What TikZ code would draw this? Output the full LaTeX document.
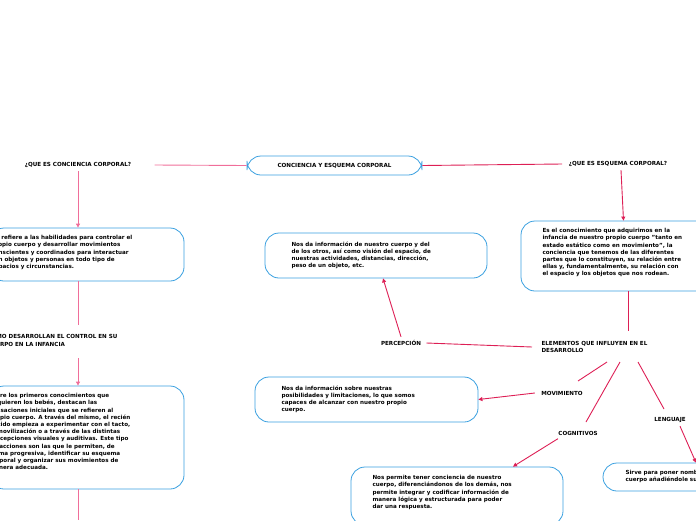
\documentclass[tikz,border=0pt]{standalone}
\usepackage{fontspec}
\setmainfont{DejaVu Sans}
\usetikzlibrary{positioning,arrows.meta}
\definecolor{pinkline}{HTML}{F06E9A}
\definecolor{redline}{HTML}{DD1F55}
\definecolor{boxblue}{HTML}{3AA0E0}
\tikzset{
  bubble/.style={draw=boxblue, line width=0.8pt, rounded corners=14pt, fill=white, minimum height=#1},
  bubble/.default=20pt,
  txt/.style={font=\bfseries\fontsize{5.6}{7.2}\selectfont, align=left},
  lbl/.style={font=\bfseries\fontsize{5.6}{7.2}\selectfont},
  pk/.style={draw=pinkline, line width=0.9pt},
  rd/.style={draw=redline, line width=0.9pt},
  arr/.style={-{Triangle[length=4pt,width=4pt]}}
}
\begin{document}
\begin{tikzpicture}[x=1pt,y=-1pt]
\useasboundingbox (0,0) rectangle (696,520);
% central topic
\node[bubble, minimum width=175pt, minimum height=19pt, lbl] (main) at (334.5,165.5) {CONCIENCIA Y ESQUEMA CORPORAL};
\node[lbl] (qcc) at (78,165) {¿QUE ES CONCIENCIA CORPORAL?};
\node[lbl] (qec) at (618,164) {¿QUE ES ESQUEMA CORPORAL?};

% left branch
\node[bubble, minimum width=194pt, minimum height=53pt] (def1) at (87,254.5) {};
\node[txt, anchor=north west] at (-12,232) {Se refiere a las habilidades para controlar el\\propio cuerpo y desarrollar movimientos\\conscientes y coordinados para interactuar\\con objetos y personas en todo tipo de\\espacios y circunstancias.};
\node[txt, anchor=west] (como) at (-16,340) {CÓMO DESARROLLAN EL CONTROL EN SU\\CUERPO EN LA INFANCIA};
\node[bubble, minimum width=194pt, minimum height=103pt] (bebes) at (87,437.5) {};
\node[txt, anchor=north west] at (-14,390) {Entre los primeros conocimientos que\\adquieren los bebés, destacan las\\sensaciones iniciales que se refieren al\\propio cuerpo. A través del mismo, el recién\\nacido empieza a experimentar con el tacto,\\la movilización o a través de las distintas\\percepciones visuales y auditivas. Este tipo\\de acciones son las que le permiten, de\\forma progresiva, identificar su esquema\\corporal y organizar sus movimientos de\\manera adecuada.};
\coordinate (down) at (78,520);

% right branch
\node[bubble, minimum width=189pt, minimum height=70pt] (esq) at (615.5,256) {};
\node[txt, anchor=north west] at (539,225) {Es el conocimiento que adquirimos en la\\infancia de nuestro propio cuerpo  "tanto en\\estado estático como en movimiento", la\\conciencia que tenemos de las diferentes\\partes que lo constituyen, su relación entre\\ellas y, fundamentalmente, su  relación con\\el espacio y los objetos que nos rodean.};
\node[txt, anchor=west] (elem) at (538,347) {ELEMENTOS QUE INFLUYEN EN EL\\DESARROLLO};
\node[lbl] (perc) at (401,343) {PERCEPCIÓN};
\node[bubble, minimum width=222pt, minimum height=45pt] (percbox) at (376,255.5) {};
\node[txt, anchor=north west] at (288,238) {Nos da información de nuestro cuerpo y del\\de los otros, así como visión del espacio, de\\nuestras actividades, distancias, dirección,\\peso de un objeto, etc.};
\node[lbl] (mov) at (562,393) {MOVIMIENTO};
\node[bubble, minimum width=223pt, minimum height=45pt] (movbox) at (366.5,399.5) {};
\node[txt, anchor=north west] at (278,382) {Nos da información sobre nuestras\\posibilidades y limitaciones, lo que somos\\capaces de alcanzar con nuestro propio\\cuerpo.};
\node[lbl] (cog) at (578,433) {COGNITIVOS};
\node[bubble, minimum width=212pt, minimum height=58pt] (cogbox) at (457,496) {};
\node[txt, anchor=north west] at (369,472) {Nos permite tener conciencia de nuestro\\cuerpo, diferenciándonos de los demás, nos\\permite integrar y codificar información de\\manera lógica y estructurada para poder\\dar una respuesta.};
\node[lbl] (len) at (670,420) {LENGUAJE};
\node[bubble, minimum width=110pt, minimum height=28pt] (lenbox) at (658,477) {};
\node[txt, anchor=north west] at (622,467) {Sirve para poner nombre a cada parte del\\cuerpo añadiéndole su función.};

% free ends of the connectors
\coordinate (comotop) at (78,325);
\coordinate (comobot) at (78,358);
\coordinate (elemtop) at (628,331);
\coordinate (e1) at (607,362);
\coordinate (e2) at (620,362);
\coordinate (e3) at (638,362);
\coordinate (m1) at (578,381);
\coordinate (c1) at (586,422);
\coordinate (l1) at (664,409);

% connectors
\draw[pk] (main.west) -- ([xshift=20pt]qcc.east);
\draw[rd] (main.east) -- ([xshift=-3pt]qec.west);
\draw[pk, arr] (qcc.south -| comotop) -- (def1.north -| comotop);
\draw[rd, arr] ([xshift=3pt]qec.south) -- ([xshift=8pt]esq.north);
\draw[pk] (def1.south -| comotop) -- (comotop);
\draw[pk, arr] (comobot) -- (bebes.north -| comobot);
\draw[pk] (bebes.south -| comobot) -- (down);
\draw[rd] (esq.south -| elemtop) -- (elemtop);
\draw[rd] ([xshift=-6pt]elem.west) -- ([xshift=2pt]perc.east);
\draw[rd, arr] (perc.north) -- ([xshift=7pt]percbox.south);
\draw[rd] (e1) -- (m1);
\draw[rd] (e2) -- (c1);
\draw[rd] (e3) -- (l1);
\draw[rd, arr] ([xshift=-3pt]mov.west) -- (movbox.east);
\draw[rd, arr] ([xshift=-20pt]cog.south) -- ([xshift=56pt]cogbox.north);
\draw[rd, arr] ([xshift=10pt]len.south) -- ([xshift=38pt]lenbox.north);
\end{tikzpicture}
\end{document}
